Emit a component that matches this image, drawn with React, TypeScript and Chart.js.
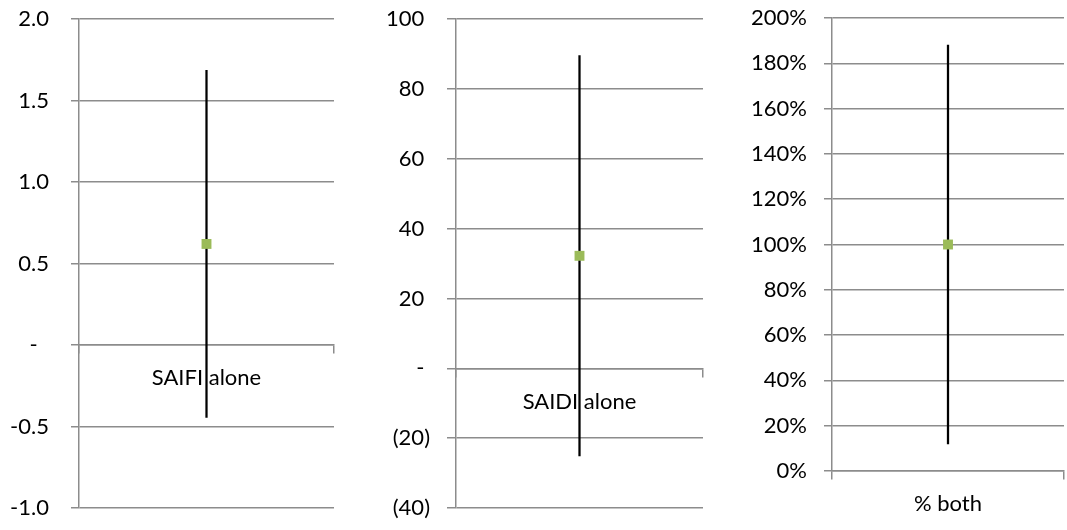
import React, { useEffect, useRef } from "react";
import { Chart, registerables } from "chart.js";

Chart.register(...registerables);

// Panel 1 — SAIFI alone
const saifiCategories = ["SAIFI alone"];
const saifiMean = [0.62];
const saifiError = [1.065];
const saifiTickLabels = ["-1.0", "-0.5", "-  ", "0.5", "1.0", "1.5", "2.0"];

// Panel 2 — SAIDI alone
const saidiCategories = ["SAIDI alone"];
const saidiMean = [32.2];
const saidiError = [57.3];
const saidiTickLabels = ["(40)", "(20)", "- ", "20 ", "40 ", "60 ", "80 ", "100 "];

// Panel 3 — % both
const bothCategories = ["% both"];
const bothMean = [100];
const bothError = [88];
const bothTickLabels = ["0%", "20%", "40%", "60%", "80%", "100%", "120%", "140%", "160%", "180%", "200%"];

const GRID = "#8c8c8c";
const GRID_W = 1.5;
const POINT = "#9bbb59";
const FONT = "Lato";
const FONT_SIZE = 22;

type PanelCfg = {
  left: number;
  width: number;
  yWidth: number;
  tickLen: number;
  labelPad: number;
  padTop: number;
  padBottom: number;
  padRight: number;
  min: number;
  max: number;
  step: number;
  categories: string[];
  mean: number[];
  error: number[];
  tickLabels: string[];
};

const panels: PanelCfg[] = [
  {
    left: 0, width: 345, yWidth: 79, tickLen: 8, labelPad: 22,
    padTop: 19, padBottom: 22, padRight: 11,
    min: -1, max: 2, step: 0.5,
    categories: saifiCategories, mean: saifiMean, error: saifiError, tickLabels: saifiTickLabels,
  },
  {
    left: 345, width: 365, yWidth: 111, tickLen: 9, labelPad: 17,
    padTop: 19, padBottom: 22, padRight: 6,
    min: -40, max: 100, step: 20,
    categories: saidiCategories, mean: saidiMean, error: saidiError, tickLabels: saidiTickLabels,
  },
  {
    left: 700, width: 371, yWidth: 132, tickLen: 8, labelPad: 17,
    padTop: 18, padBottom: 59, padRight: 0,
    min: 0, max: 200, step: 20,
    categories: bothCategories, mean: bothMean, error: bothError, tickLabels: bothTickLabels,
  },
];

function Panel({ cfg }: { cfg: PanelCfg }) {
  const ref = useRef<HTMLCanvasElement | null>(null);
  useEffect(() => {
    let chart: Chart | null = null;
    let cancelled = false;
    const make = () => {
      if (cancelled || !ref.current) return;
      chart = new Chart(ref.current, {
        type: "bar",
        data: {
          labels: cfg.categories,
          datasets: [
            {
              type: "line",
              data: cfg.mean,
              showLine: false,
              pointStyle: "rect",
              pointRadius: 7,
              pointBorderWidth: 0,
              pointBackgroundColor: POINT,
              pointBorderColor: POINT,
              order: 0,
            } as any,
            {
              type: "bar",
              data: cfg.mean.map((m, i) => [m - cfg.error[i], m + cfg.error[i]]),
              backgroundColor: "#000000",
              borderWidth: 0,
              barThickness: 1.6,
              order: 1,
            } as any,
          ],
        },
        options: {
          responsive: false,
          animation: false,
          events: [],
          layout: {
            padding: { top: cfg.padTop, bottom: cfg.padBottom, left: 0, right: cfg.padRight },
          },
          plugins: { legend: { display: false }, tooltip: { enabled: false } },
          scales: {
            x: {
              type: "category",
              position: { y: 0 } as any,
              offset: true,
              grid: {
                offset: true,
                drawOnChartArea: false,
                drawTicks: true,
                tickLength: 8,
                tickWidth: GRID_W,
                color: GRID,
                lineWidth: GRID_W,
              },
              border: { display: true, color: GRID, width: GRID_W },
              ticks: {
                padding: 12,
                color: "#000000",
                font: { family: FONT, size: FONT_SIZE },
                maxRotation: 0,
              },
            },
            y: {
              type: "linear",
              position: "left",
              min: cfg.min,
              max: cfg.max,
              afterFit: (scale: any) => {
                scale.width = cfg.yWidth;
                scale.paddingTop = 0;
                scale.paddingBottom = 0;
              },
              grid: {
                color: GRID,
                lineWidth: GRID_W,
                tickWidth: GRID_W,
                drawTicks: true,
                tickLength: cfg.tickLen,
              },
              border: { display: true, color: GRID, width: GRID_W },
              ticks: {
                stepSize: cfg.step,
                padding: cfg.labelPad,
                color: "#000000",
                font: { family: FONT, size: FONT_SIZE },
                callback: (_v: any, i: number) => cfg.tickLabels[i],
              },
            },
          },
        },
      });
    };
    const fonts: any = (document as any).fonts;
    if (fonts && fonts.load) {
      fonts.load(`${FONT_SIZE}px ${FONT}`).then(make, make);
    } else {
      make();
    }
    return () => {
      cancelled = true;
      if (chart) chart.destroy();
    };
  }, [cfg]);
  return (
    <canvas
      ref={ref}
      width={cfg.width}
      height={530}
      style={{ position: "absolute", left: cfg.left, top: 0, width: cfg.width, height: 530 }}
    />
  );
}

export default function App() {
  return (
    <div
      style={{
        position: "fixed",
        left: 0,
        top: 0,
        width: 1067,
        height: 530,
        overflow: "hidden",
        background: "#ffffff",
      }}
    >
      {panels.map((p, i) => (
        <Panel key={i} cfg={p} />
      ))}
    </div>
  );
}
